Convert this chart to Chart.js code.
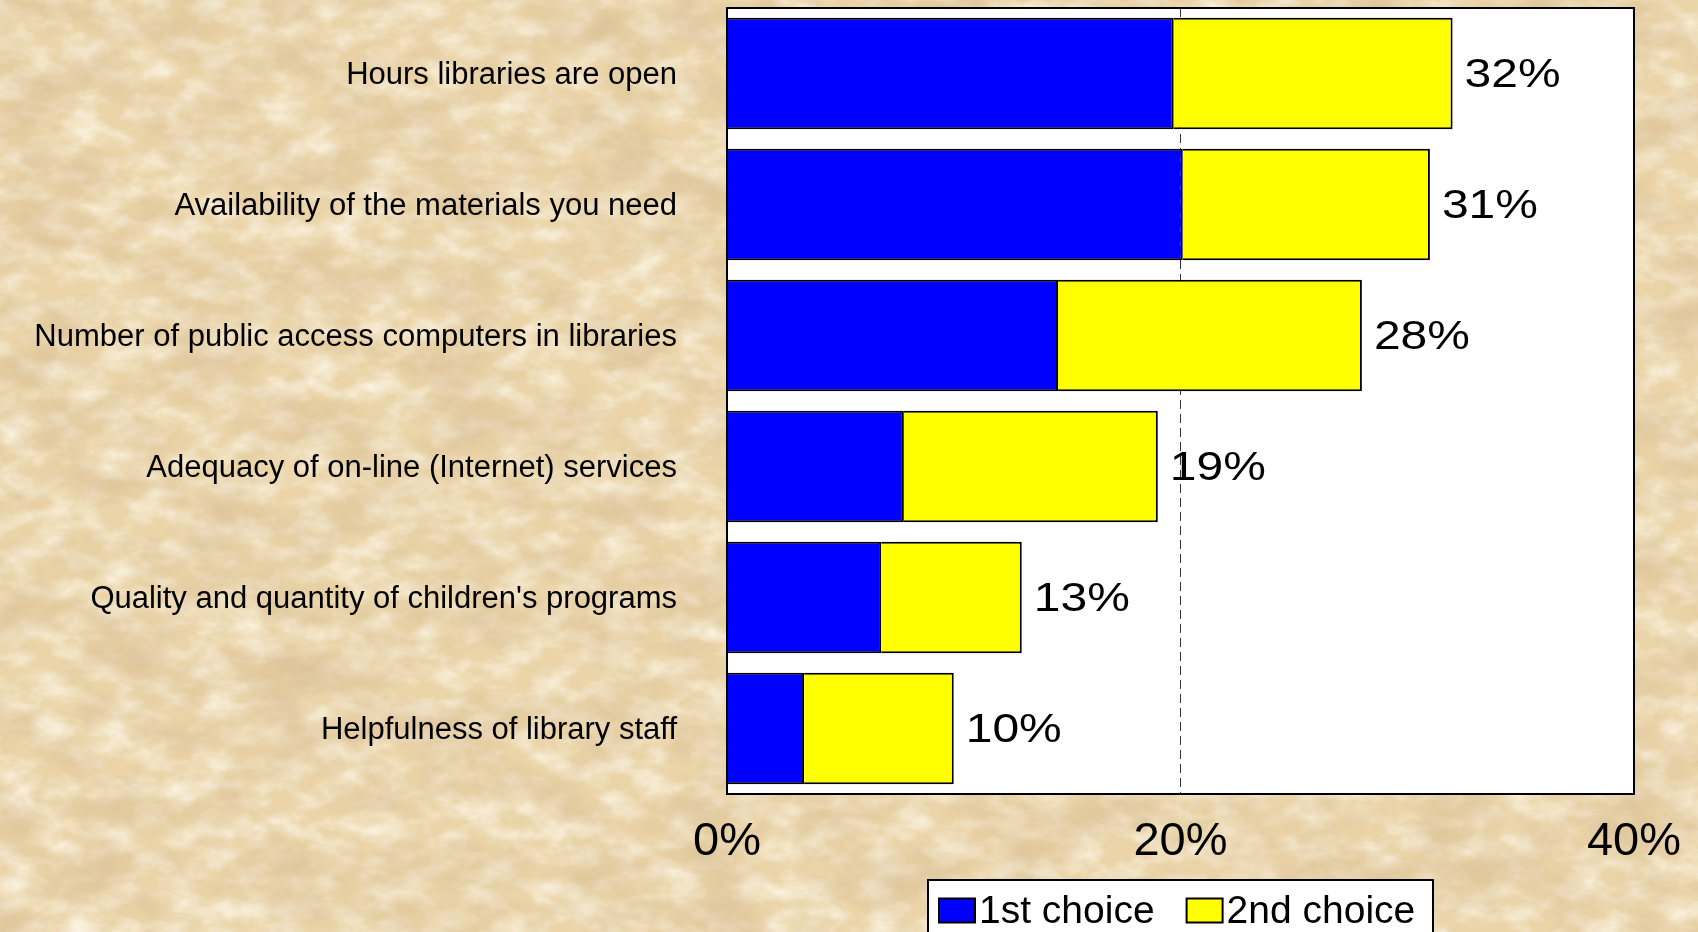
<!DOCTYPE html>
<html>
<head>
<meta charset="utf-8">
<title>Library service priorities</title>
<script src="https://cdn.jsdelivr.net/npm/chart.js@4.4.1/dist/chart.umd.min.js"></script>
<style>
  html, body { margin: 0; padding: 0; overflow: hidden; }
  body {
    width: 1698px; height: 932px;
    background-color: #EAD4A8;
    /* parchment: fibrous brown mottling over a light tan ground */
    background-image:
      url("data:image/svg+xml;utf8,<svg xmlns='http://www.w3.org/2000/svg' width='1698' height='932'><filter id='a'><feTurbulence type='fractalNoise' baseFrequency='0.012 0.02' numOctaves='5' seed='7'/><feColorMatrix values='0 0 0 0 0.70  0 0 0 0 0.52  0 0 0 0 0.30  1.6 0 0 0 -0.62'/></filter><rect width='100%' height='100%' filter='url(%23a)'/></svg>"),
      url("data:image/svg+xml;utf8,<svg xmlns='http://www.w3.org/2000/svg' width='1698' height='932'><filter id='b'><feTurbulence type='fractalNoise' baseFrequency='0.03 0.05' numOctaves='4' seed='21'/><feColorMatrix values='0 0 0 0 1  0 0 0 0 0.97  0 0 0 0 0.88  1.5 0 0 0 -0.55'/></filter><rect width='100%' height='100%' filter='url(%23b)'/></svg>");
  }
  #wrap { position: absolute; left: 0; top: 0; width: 1698px; height: 932px; }
</style>
</head>
<body>
<div id="wrap"><canvas id="chart" width="1698" height="932"></canvas></div>
<script>
// Survey: which library services most need improvement (share of respondents)
const categories = [
  'Hours libraries are open',
  'Availability of the materials you need',
  'Number of public access computers in libraries',
  'Adequacy of on-line (Internet) services',
  "Quality and quantity of children's programs",
  'Helpfulness of library staff'
];
const firstChoice  = [19.7, 20.1, 14.6, 7.8, 6.8, 3.4];
const secondChoice = [12.3, 10.9, 13.4, 11.2, 6.2, 6.6];
const seriesNames  = ['1st choice', '2nd choice'];
const seriesColors = ['#0000FF', '#FFFF00'];
const tickValues   = [0, 20, 40];

const FONT = '"Liberation Sans", Arial, Helvetica, sans-serif';
Chart.defaults.font.family = FONT;
Chart.defaults.color = '#000';

// White plotting field behind the bars
const plotBackground = {
  id: 'plotBackground',
  beforeDraw(chart) {
    const { ctx, chartArea: a } = chart;
    ctx.save();
    ctx.fillStyle = '#FFFFFF';
    ctx.fillRect(a.left, a.top, a.right - a.left, a.bottom - a.top);
    ctx.restore();
  }
};

// Frame, total labels at bar ends, and boxed legend under the axis
const overlay = {
  id: 'overlay',
  afterDraw(chart) {
    const { ctx, chartArea: a } = chart;
    ctx.save();

    // frame around the plotting field
    ctx.strokeStyle = '#000';
    ctx.lineWidth = 2;
    ctx.strokeRect(a.left, a.top, a.right - a.left, a.bottom - a.top);

    // totals at the end of each stacked bar
    const lastMeta = chart.getDatasetMeta(chart.data.datasets.length - 1);
    ctx.fillStyle = '#000';
    ctx.textAlign = 'left';
    ctx.textBaseline = 'middle';
    ctx.font = '41px ' + FONT;
    lastMeta.data.forEach((bar, i) => {
      const total = firstChoice[i] + secondChoice[i];
      ctx.save();
      ctx.translate(bar.x + 12, bar.y + 2);
      ctx.scale(1.17, 1);
      ctx.fillText(Math.round(total) + '%', 0, 0);
      ctx.restore();
    });

    // legend
    const boxLeft = 928, boxTop = 880, boxRight = 1433, boxBottom = 950;
    ctx.fillStyle = '#FFFFFF';
    ctx.fillRect(boxLeft, boxTop, boxRight - boxLeft, boxBottom - boxTop);
    ctx.strokeStyle = '#000';
    ctx.lineWidth = 2;
    ctx.strokeRect(boxLeft, boxTop, boxRight - boxLeft, boxBottom - boxTop);

    ctx.font = '39px ' + FONT;
    ctx.textBaseline = 'middle';
    let x = boxLeft + 11;
    chart.data.datasets.forEach((ds) => {
      ctx.fillStyle = ds.backgroundColor;
      ctx.fillRect(x, 898.5, 36, 24);
      ctx.strokeStyle = '#000';
      ctx.lineWidth = 2;
      ctx.strokeRect(x, 898.5, 36, 24);
      const tx = x + 36 + 4;
      ctx.fillStyle = '#000';
      ctx.fillText(ds.label, tx, 912);
      x = tx + ctx.measureText(ds.label).width + 32;
    });

    ctx.restore();
  }
};

new Chart(document.getElementById('chart'), {
  type: 'bar',
  data: {
    labels: categories,
    datasets: [
      {
        label: seriesNames[0],
        data: firstChoice,
        backgroundColor: seriesColors[0],
        borderColor: '#000',
        borderWidth: 2
      },
      {
        label: seriesNames[1],
        data: secondChoice,
        backgroundColor: seriesColors[1],
        borderColor: '#000',
        borderWidth: 2
      }
    ]
  },
  options: {
    indexAxis: 'y',
    responsive: false,
    animation: false,
    devicePixelRatio: 1,
    barPercentage: 0.85,
    categoryPercentage: 1.0,
    layout: { padding: { top: 8, right: 64, bottom: 0, left: 0 } },
    plugins: {
      legend: { display: false },
      tooltip: { enabled: false }
    },
    scales: {
      x: {
        type: 'linear',
        stacked: true,
        min: 0,
        max: 40,
        afterBuildTicks(scale) {
          scale.ticks = tickValues.map(v => ({ value: v }));
        },
        afterFit(scale) {
          scale.height = 138;
          scale.paddingLeft = 0;
          scale.paddingRight = 0;
        },
        ticks: {
          callback: v => v + '%',
          font: { size: 47 },
          color: '#000',
          padding: 20,
          maxRotation: 0,
          autoSkip: false
        },
        grid: {
          color: c => (c.tick && c.tick.value === 20) ? '#333333' : 'rgba(0,0,0,0)',
          lineWidth: 1,
          drawTicks: false,
          borderDash: [9, 5]
        },
        border: { display: false, dash: [9, 5] }
      },
      y: {
        type: 'category',
        stacked: true,
        afterFit(scale) {
          scale.width = 727;
          scale.paddingTop = 0;
          scale.paddingBottom = 0;
        },
        ticks: {
          font: { size: 31 },
          color: '#000',
          padding: 50,
          labelOffset: 2,
          autoSkip: false
        },
        grid: { display: false, drawTicks: false },
        border: { display: false }
      }
    }
  },
  plugins: [plotBackground, overlay]
});
</script>
</body>
</html>
